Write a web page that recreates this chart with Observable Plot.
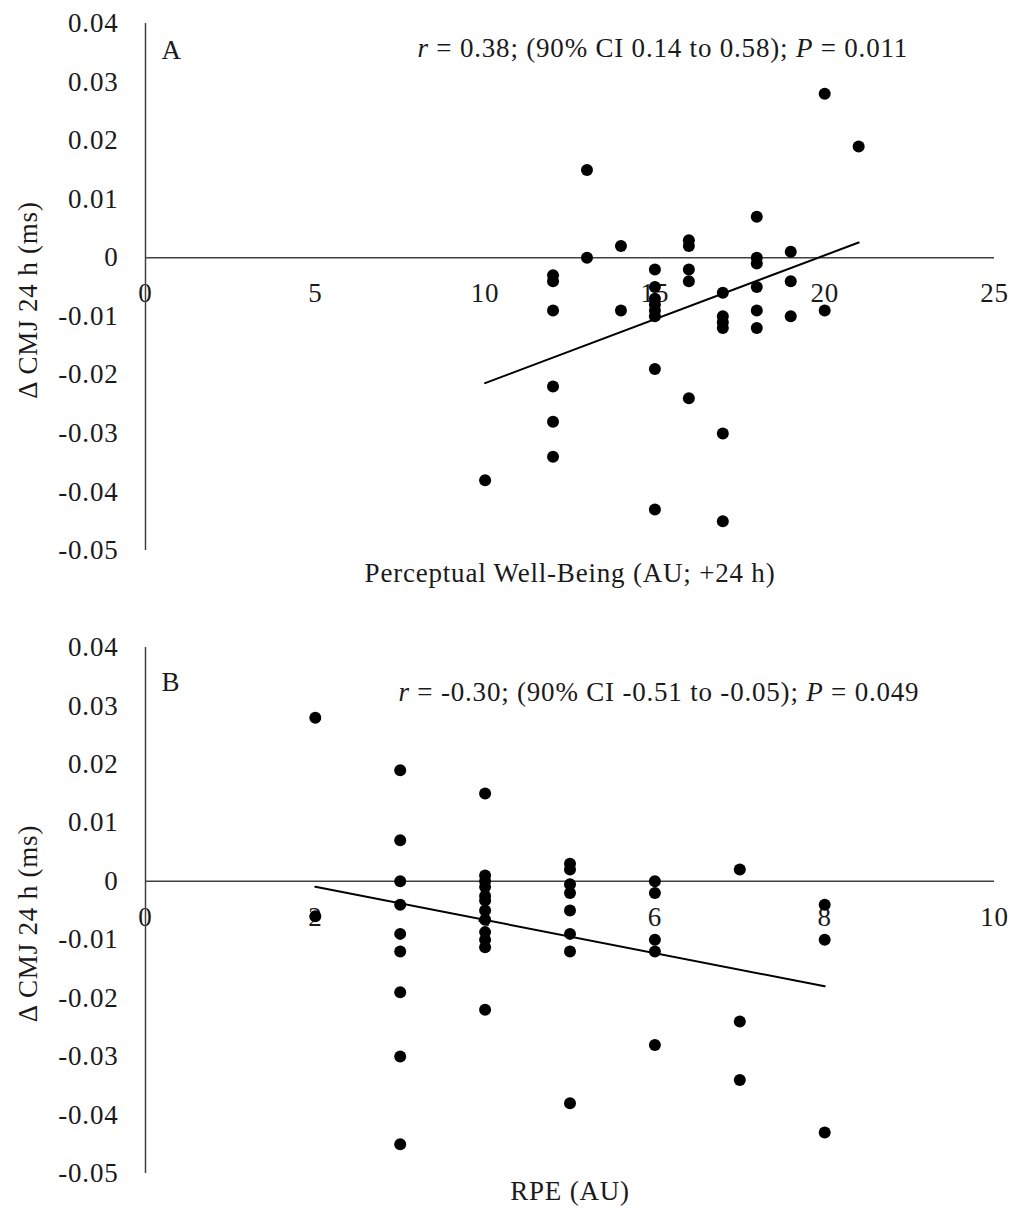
<!DOCTYPE html>
<html><head><meta charset="utf-8">
<script src="https://cdn.jsdelivr.net/npm/d3@7"></script>
<script src="https://cdn.jsdelivr.net/npm/@observablehq/plot@0.6"></script>
<style>
html,body{margin:0;padding:0;background:#fff;}
#chart svg{display:block;}
#chart svg text{letter-spacing:0.8px;}
</style></head><body><div id="chart"></div>
<script>
// Panel A: Perceptual well-being (AU; +24 h) vs Δ CMJ 24 h
const wellBeing = [10, 12,12,12,12,12,12, 13,13, 14,14, 15,15,15,15,15,15,15,15, 16,16,16,16,16, 17,17,17,17,17,17, 18,18,18,18,18,18, 19,19,19, 20,20, 21];
const cmjA = [-0.038,
  -0.003,-0.004,-0.009,-0.022,-0.028,-0.034,
  0.015,0.000,
  0.002,-0.009,
  -0.002,-0.005,-0.007,-0.008,-0.009,-0.010,-0.019,-0.043,
  0.003,0.002,-0.002,-0.004,-0.024,
  -0.006,-0.010,-0.011,-0.012,-0.030,-0.045,
  0.007,0.000,-0.001,-0.005,-0.009,-0.012,
  0.001,-0.004,-0.010,
  0.028,-0.009,
  0.019];
// Panel B: RPE (AU) vs Δ CMJ 24 h
const rpe = [2,2, 3,3,3,3,3,3,3,3,3, 4,4,4,4,4,4,4,4,4,4,4,4, 5,5,5,5,5,5,5,5, 6,6,6,6,6, 7,7,7, 8,8,8];
const cmjB = [0.028,-0.006,
  0.019,0.007,0.000,-0.004,-0.009,-0.012,-0.019,-0.030,-0.045,
  0.015,0.001,0.000,-0.001,-0.0025,-0.0033,-0.005,-0.0066,-0.0087,-0.010,-0.0113,-0.022,
  0.003,0.002,-0.0005,-0.002,-0.005,-0.009,-0.012,-0.038,
  0.000,-0.002,-0.010,-0.012,-0.028,
  0.002,-0.024,-0.034,
  -0.004,-0.010,-0.043];

const yTicks = [0.04, 0.03, 0.02, 0.01, 0, -0.01, -0.02, -0.03, -0.04, -0.05];
const yTickLabels = ["0.04","0.03","0.02","0.01","0","-0.01","-0.02","-0.03","-0.04","-0.05"];
const xTicksA = [0, 5, 10, 15, 20, 25];
const xTicksB = [0, 2, 4, 6, 8, 10];
const yTitle = "Δ CMJ 24 h (ms)";
const xTitleA = "Perceptual Well-Being (AU; +24 h)";
const xTitleB = "RPE (AU)";
const statsA = [["r", true], [" = 0.38; (90% CI 0.14 to 0.58); ", false], ["P", true], [" = 0.011", false]];
const statsB = [["r", true], [" = -0.30; (90% CI -0.51 to -0.05); ", false], ["P", true], [" = 0.049", false]];

const FONT = "'Liberation Serif', 'Times New Roman', serif";
const FS = 27;
const INK = "#1a1a1a";

function panel({xs, ys, xTicks, xMax, label, stats, xTitle, height, marginTop, marginBottom, labelDy, statsDx, statsDy, titleDy}) {
  const data = xs.map((x, i) => ({x, y: ys[i]}));
  const statsText = stats.map(s => s[0]).join("");
  const svg = Plot.plot({
    width: 1015, height, marginLeft: 145, marginRight: 21, marginTop, marginBottom,
    x: {domain: [0, xMax], axis: null},
    y: {domain: [-0.05, 0.04], axis: null},
    style: {fontFamily: FONT, fontSize: FS + "px", color: INK, background: "white", overflow: "visible"},
    marks: [
      Plot.text(xTicks, {x: d => d, y: 0, dy: 36, text: d => String(d), fontSize: FS, fill: INK}),
      Plot.ruleY([0], {stroke: "#404040", strokeWidth: 1.5}),
      Plot.ruleX([0], {stroke: "#404040", strokeWidth: 1.5}),
      Plot.axisY({ticks: yTicks, tickSize: 0, tickPadding: 27, tickFormat: d => yTickLabels[yTicks.indexOf(d)], label: null, fontSize: FS, fill: INK}),
      Plot.dot(data, {x: "x", y: "y", r: 6, fill: "black"}),
      Plot.linearRegressionY(data, {x: "x", y: "y", ci: 0, stroke: "black", strokeWidth: 2}),
      Plot.text([label], {frameAnchor: "top-left", textAnchor: "start", lineAnchor: "middle", dx: 16, dy: labelDy, fontSize: FS, fill: INK}),
      Plot.text([statsText], {frameAnchor: "top-left", textAnchor: "start", lineAnchor: "middle", dx: statsDx, dy: statsDy, fontSize: FS, fill: INK}),
      Plot.text([yTitle], {frameAnchor: "left", textAnchor: "middle", lineAnchor: "middle", rotate: -90, dx: -117, dy: 13, fontSize: FS, fill: INK}),
      Plot.text([xTitle], {frameAnchor: "bottom", textAnchor: "middle", lineAnchor: "middle", dy: titleDy, fontSize: FS, fill: INK})
    ]
  });
  // italicize r and P
  svg.querySelectorAll("text").forEach(t => {
    if (t.textContent === statsText) {
      t.textContent = "";
      for (const [s, it] of stats) {
        const ts = document.createElementNS("http://www.w3.org/2000/svg", "tspan");
        ts.textContent = s;
        if (it) ts.setAttribute("font-style", "italic");
        t.appendChild(ts);
      }
    }
  });
  return svg;
}

const root = document.getElementById("chart");
root.appendChild(panel({xs: wellBeing, ys: cmjA, xTicks: xTicksA, xMax: 25, label: "A", stats: statsA, xTitle: xTitleA,
  height: 610, marginTop: 23, marginBottom: 60, labelDy: 27, statsDx: 272, statsDy: 25, titleDy: 23}));
root.appendChild(panel({xs: rpe, ys: cmjB, xTicks: xTicksB, xMax: 10, label: "B", stats: statsB, xTitle: xTitleB,
  height: 599, marginTop: 37, marginBottom: 36, labelDy: 35, statsDx: 253, statsDy: 45, titleDy: 18}));
</script></body></html>
